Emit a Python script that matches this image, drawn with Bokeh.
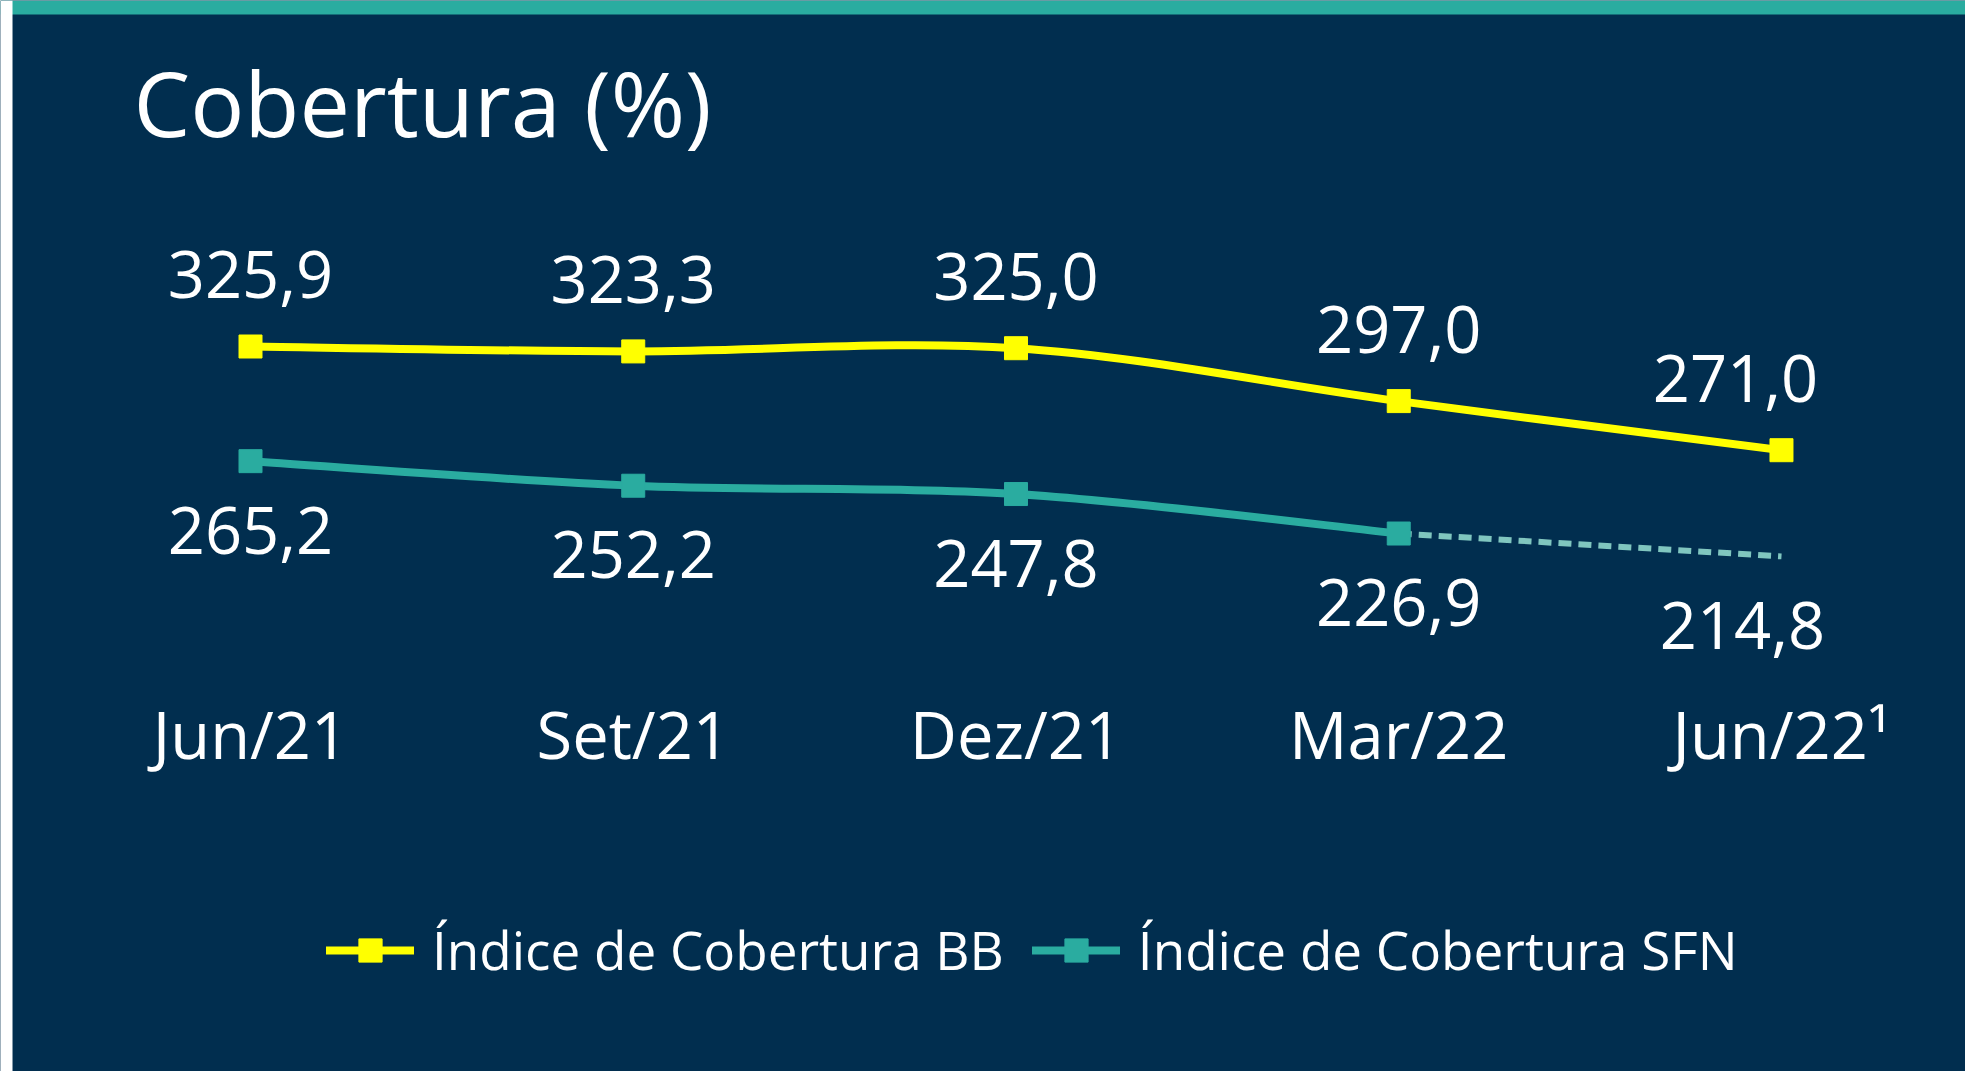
from bokeh.plotting import figure
from bokeh.models import (Range1d, LinearAxis, FixedTicker, Legend, LegendItem,
                          Label, BoxAnnotation, ColumnDataSource)
from bokeh.core.properties import value
from bokeh.embed import file_html
from bokeh.resources import INLINE

# ---------------- data ----------------
categories = ["Jun/21", "Set/21", "Dez/21", "Mar/22", "Jun/22\u00b9"]
bb_values = [325.9, 323.3, 325.0, 297.0, 271.0]
sfn_values = [265.2, 252.2, 247.8, 226.9, 214.8]
bb_name = "Índice de Cobertura BB"
sfn_name = "Índice de Cobertura SFN"
title_text = "Cobertura (%)"

# ---------------- style ----------------
NAVY = "#012E4F"
TEAL = "#2AACA0"
TEAL_LIGHT = "#80C6BF"
YELLOW = "#FFFF00"
FONT = "Open Sans"

xs = list(range(len(categories)))
n_solid = len(sfn_values) - 1  # last SFN segment is a projection (dashed)


def fmt(v):
    return f"{v:.1f}".replace(".", ",")


def smooth_segments(xv, yv):
    n = len(xv)
    seg = {k: [] for k in ("x0", "y0", "x1", "y1", "cx0", "cy0", "cx1", "cy1")}
    for i in range(n - 1):
        a = max(i - 1, 0)
        d = min(i + 2, n - 1)
        seg["x0"].append(xv[i]); seg["y0"].append(yv[i])
        seg["x1"].append(xv[i + 1]); seg["y1"].append(yv[i + 1])
        seg["cx0"].append(xv[i] + (xv[i + 1] - xv[a]) / 6)
        seg["cy0"].append(yv[i] + (yv[i + 1] - yv[a]) / 6)
        seg["cx1"].append(xv[i + 1] - (xv[d] - xv[i]) / 6)
        seg["cy1"].append(yv[i + 1] - (yv[d] - yv[i]) / 6)
    return seg


p = figure(width=1965, height=1071,
           x_range=Range1d(-0.6532, 4.4808), y_range=Range1d(-57.90, 509.07),
           x_axis_type=None, y_axis_type=None,
           toolbar_location=None, output_backend="svg", min_border=0,
           background_fill_color=NAVY, border_fill_color=NAVY,
           outline_line_color=None)

# top accent bar and left page strip
p.add_layout(BoxAnnotation(bottom=501.65, fill_color=TEAL, fill_alpha=1.0,
                           line_color=None, level="underlay"))
p.add_layout(BoxAnnotation(right=-0.6218, fill_color="white", fill_alpha=1.0,
                           line_color=None, level="underlay"))

# title
p.add_layout(Label(x=-0.3057, y=455.6, text=title_text, text_font=FONT,
                   text_font_size="90px", text_color="white",
                   text_baseline="alphabetic", text_align="left"))

# x axis (category labels)
xaxis = LinearAxis(ticker=FixedTicker(ticks=xs),
                   major_label_overrides={i: c for i, c in enumerate(categories)},
                   fixed_location=147.5)
xaxis.axis_line_color = None
xaxis.major_tick_line_color = None
xaxis.minor_tick_line_color = None
xaxis.major_label_standoff = 0
xaxis.major_label_text_font = FONT
xaxis.major_label_text_font_size = "65px"
xaxis.major_label_text_color = "white"
p.add_layout(xaxis, "below")

# SFN series
sfn_seg = smooth_segments(xs[:n_solid], sfn_values[:n_solid])
sfn_curve = p.bezier(source=ColumnDataSource(sfn_seg), x0="x0", y0="y0", x1="x1", y1="y1",
                     cx0="cx0", cy0="cy0", cx1="cx1", cy1="cy1",
                     line_color=TEAL, line_width=8, line_cap="round")
p.line(xs[n_solid - 1:], sfn_values[n_solid - 1:], line_color=TEAL_LIGHT,
       line_width=6, line_dash="13 7")
sfn_marks = p.scatter(xs[:n_solid], sfn_values[:n_solid], marker="square", size=23,
                      fill_color=TEAL, line_color=TEAL)

# BB series
bb_seg = smooth_segments(xs, bb_values)
bb_curve = p.bezier(source=ColumnDataSource(bb_seg), x0="x0", y0="y0", x1="x1", y1="y1",
                    cx0="cx0", cy0="cy0", cx1="cx1", cy1="cy1",
                    line_color=YELLOW, line_width=8, line_cap="round")
bb_marks = p.scatter(xs, bb_values, marker="square", size=23,
                     fill_color=YELLOW, line_color=YELLOW)

# data labels
bb_xoff = [0, 0, 0, 0, -46]
sfn_xoff = [0, 0, 0, 0, -39]
bb_lab = ColumnDataSource(dict(x=xs, y=bb_values, t=[fmt(v) for v in bb_values], xo=bb_xoff))
sfn_lab = ColumnDataSource(dict(x=xs, y=sfn_values, t=[fmt(v) for v in sfn_values], xo=sfn_xoff))
for src, yoff in ((bb_lab, -72), (sfn_lab, 69)):
    p.text(x="x", y="y", text="t", source=src, x_offset="xo", y_offset=yoff,
           text_align="center", text_baseline="alphabetic",
           text_font=value(FONT), text_font_size="65px", text_color="white")

legend = Legend(items=[LegendItem(label=bb_name, renderers=[bb_curve, bb_marks]),
                       LegendItem(label=sfn_name, renderers=[sfn_curve, sfn_marks])],
                orientation="horizontal", location=(326, 85),
                glyph_width=88, glyph_height=58, label_standoff=18, spacing=28,
                padding=0, margin=0, border_line_color=None,
                background_fill_alpha=0,
                label_text_font=FONT, label_text_font_size="53px",
                label_text_color="white")
p.add_layout(legend)

open("out.html", "w").write(file_html(p, INLINE))
